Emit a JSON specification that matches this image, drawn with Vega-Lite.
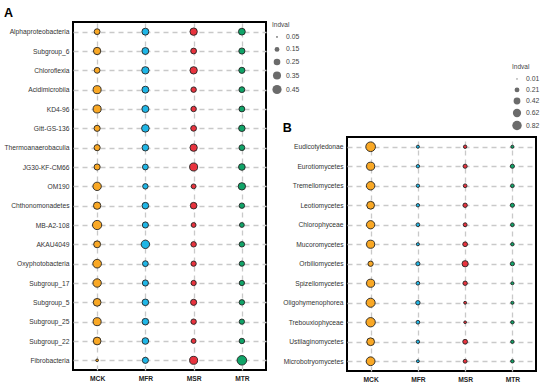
{
  "$schema": "https://vega.github.io/schema/vega-lite/v6.json",
  "padding": {"left": 2, "top": 5, "right": 5, "bottom": 5},
  "bounds": "flush",
  "spacing": 81,
  "config": {
    "font": "Liberation Sans",
    "view": {"stroke": "black", "strokeWidth": 2},
    "axis": {
      "domain": false,
      "ticks": false,
      "grid": true,
      "gridColor": "#c9c9c9",
      "gridDash": [5, 4],
      "gridWidth": 1.3,
      "labelFontSize": 6.7,
      "labelColor": "#333",
      "title": null
    },
    "axisX": {"labelFontWeight": "bold", "labelPadding": 5, "labelColor": "#222", "labelAngle": 0},
    "axisY": {"labelPadding": 4},
    "title": {"anchor": "start", "fontSize": 12.5, "fontWeight": "bold", "offset": 3},
    "legend": {
      "titleFontSize": 6.5,
      "titleFontWeight": "normal",
      "titleColor": "#444",
      "labelFontSize": 6.8,
      "labelColor": "#444",
      "labelFontWeight": "normal",
      "symbolFillColor": "#6b6b6b",
      "symbolStrokeWidth": 0,
      "symbolType": "circle"
    }
  },
  "datasets": {
    "a": [
      {"taxon": "Alphaproteobacteria", "group": "MCK", "indval": 0.20},
      {"taxon": "Alphaproteobacteria", "group": "MFR", "indval": 0.27},
      {"taxon": "Alphaproteobacteria", "group": "MSR", "indval": 0.30},
      {"taxon": "Alphaproteobacteria", "group": "MTR", "indval": 0.26},
      {"taxon": "Subgroup_6", "group": "MCK", "indval": 0.30},
      {"taxon": "Subgroup_6", "group": "MFR", "indval": 0.27},
      {"taxon": "Subgroup_6", "group": "MSR", "indval": 0.20},
      {"taxon": "Subgroup_6", "group": "MTR", "indval": 0.22},
      {"taxon": "Chloroflexia", "group": "MCK", "indval": 0.20},
      {"taxon": "Chloroflexia", "group": "MFR", "indval": 0.30},
      {"taxon": "Chloroflexia", "group": "MSR", "indval": 0.30},
      {"taxon": "Chloroflexia", "group": "MTR", "indval": 0.22},
      {"taxon": "Acidimicrobiia", "group": "MCK", "indval": 0.35},
      {"taxon": "Acidimicrobiia", "group": "MFR", "indval": 0.27},
      {"taxon": "Acidimicrobiia", "group": "MSR", "indval": 0.18},
      {"taxon": "Acidimicrobiia", "group": "MTR", "indval": 0.20},
      {"taxon": "KD4-96", "group": "MCK", "indval": 0.35},
      {"taxon": "KD4-96", "group": "MFR", "indval": 0.28},
      {"taxon": "KD4-96", "group": "MSR", "indval": 0.18},
      {"taxon": "KD4-96", "group": "MTR", "indval": 0.20},
      {"taxon": "Gitt-GS-136", "group": "MCK", "indval": 0.22},
      {"taxon": "Gitt-GS-136", "group": "MFR", "indval": 0.32},
      {"taxon": "Gitt-GS-136", "group": "MSR", "indval": 0.20},
      {"taxon": "Gitt-GS-136", "group": "MTR", "indval": 0.24},
      {"taxon": "Thermoanaerobaculia", "group": "MCK", "indval": 0.22},
      {"taxon": "Thermoanaerobaculia", "group": "MFR", "indval": 0.25},
      {"taxon": "Thermoanaerobaculia", "group": "MSR", "indval": 0.30},
      {"taxon": "Thermoanaerobaculia", "group": "MTR", "indval": 0.20},
      {"taxon": "JG30-KF-CM66", "group": "MCK", "indval": 0.22},
      {"taxon": "JG30-KF-CM66", "group": "MFR", "indval": 0.20},
      {"taxon": "JG30-KF-CM66", "group": "MSR", "indval": 0.35},
      {"taxon": "JG30-KF-CM66", "group": "MTR", "indval": 0.25},
      {"taxon": "OM190", "group": "MCK", "indval": 0.38},
      {"taxon": "OM190", "group": "MFR", "indval": 0.18},
      {"taxon": "OM190", "group": "MSR", "indval": 0.15},
      {"taxon": "OM190", "group": "MTR", "indval": 0.30},
      {"taxon": "Chthonomonadetes", "group": "MCK", "indval": 0.30},
      {"taxon": "Chthonomonadetes", "group": "MFR", "indval": 0.25},
      {"taxon": "Chthonomonadetes", "group": "MSR", "indval": 0.25},
      {"taxon": "Chthonomonadetes", "group": "MTR", "indval": 0.18},
      {"taxon": "MB-A2-108", "group": "MCK", "indval": 0.45},
      {"taxon": "MB-A2-108", "group": "MFR", "indval": 0.22},
      {"taxon": "MB-A2-108", "group": "MSR", "indval": 0.15},
      {"taxon": "MB-A2-108", "group": "MTR", "indval": 0.15},
      {"taxon": "AKAU4049", "group": "MCK", "indval": 0.27},
      {"taxon": "AKAU4049", "group": "MFR", "indval": 0.38},
      {"taxon": "AKAU4049", "group": "MSR", "indval": 0.18},
      {"taxon": "AKAU4049", "group": "MTR", "indval": 0.18},
      {"taxon": "Oxyphotobacteria", "group": "MCK", "indval": 0.40},
      {"taxon": "Oxyphotobacteria", "group": "MFR", "indval": 0.20},
      {"taxon": "Oxyphotobacteria", "group": "MSR", "indval": 0.17},
      {"taxon": "Oxyphotobacteria", "group": "MTR", "indval": 0.17},
      {"taxon": "Subgroup_17", "group": "MCK", "indval": 0.38},
      {"taxon": "Subgroup_17", "group": "MFR", "indval": 0.22},
      {"taxon": "Subgroup_17", "group": "MSR", "indval": 0.17},
      {"taxon": "Subgroup_17", "group": "MTR", "indval": 0.17},
      {"taxon": "Subgroup_5", "group": "MCK", "indval": 0.33},
      {"taxon": "Subgroup_5", "group": "MFR", "indval": 0.25},
      {"taxon": "Subgroup_5", "group": "MSR", "indval": 0.22},
      {"taxon": "Subgroup_5", "group": "MTR", "indval": 0.18},
      {"taxon": "Subgroup_25", "group": "MCK", "indval": 0.35},
      {"taxon": "Subgroup_25", "group": "MFR", "indval": 0.25},
      {"taxon": "Subgroup_25", "group": "MSR", "indval": 0.18},
      {"taxon": "Subgroup_25", "group": "MTR", "indval": 0.17},
      {"taxon": "Subgroup_22", "group": "MCK", "indval": 0.33},
      {"taxon": "Subgroup_22", "group": "MFR", "indval": 0.25},
      {"taxon": "Subgroup_22", "group": "MSR", "indval": 0.15},
      {"taxon": "Subgroup_22", "group": "MTR", "indval": 0.18},
      {"taxon": "Fibrobacteria", "group": "MCK", "indval": 0.07},
      {"taxon": "Fibrobacteria", "group": "MFR", "indval": 0.22},
      {"taxon": "Fibrobacteria", "group": "MSR", "indval": 0.35},
      {"taxon": "Fibrobacteria", "group": "MTR", "indval": 0.48}
    ],
    "b": [
      {"taxon": "Eudicotyledonae", "group": "MCK", "indval": 0.85},
      {"taxon": "Eudicotyledonae", "group": "MFR", "indval": 0.08},
      {"taxon": "Eudicotyledonae", "group": "MSR", "indval": 0.10},
      {"taxon": "Eudicotyledonae", "group": "MTR", "indval": 0.08},
      {"taxon": "Eurotiomycetes", "group": "MCK", "indval": 0.60},
      {"taxon": "Eurotiomycetes", "group": "MFR", "indval": 0.10},
      {"taxon": "Eurotiomycetes", "group": "MSR", "indval": 0.15},
      {"taxon": "Eurotiomycetes", "group": "MTR", "indval": 0.15},
      {"taxon": "Tremellomycetes", "group": "MCK", "indval": 0.65},
      {"taxon": "Tremellomycetes", "group": "MFR", "indval": 0.10},
      {"taxon": "Tremellomycetes", "group": "MSR", "indval": 0.12},
      {"taxon": "Tremellomycetes", "group": "MTR", "indval": 0.12},
      {"taxon": "Leotiomycetes", "group": "MCK", "indval": 0.55},
      {"taxon": "Leotiomycetes", "group": "MFR", "indval": 0.10},
      {"taxon": "Leotiomycetes", "group": "MSR", "indval": 0.17},
      {"taxon": "Leotiomycetes", "group": "MTR", "indval": 0.15},
      {"taxon": "Chlorophyceae", "group": "MCK", "indval": 0.62},
      {"taxon": "Chlorophyceae", "group": "MFR", "indval": 0.12},
      {"taxon": "Chlorophyceae", "group": "MSR", "indval": 0.13},
      {"taxon": "Chlorophyceae", "group": "MTR", "indval": 0.12},
      {"taxon": "Mucoromycetes", "group": "MCK", "indval": 0.60},
      {"taxon": "Mucoromycetes", "group": "MFR", "indval": 0.08},
      {"taxon": "Mucoromycetes", "group": "MSR", "indval": 0.20},
      {"taxon": "Mucoromycetes", "group": "MTR", "indval": 0.10},
      {"taxon": "Orbiliomycetes", "group": "MCK", "indval": 0.25},
      {"taxon": "Orbiliomycetes", "group": "MFR", "indval": 0.15},
      {"taxon": "Orbiliomycetes", "group": "MSR", "indval": 0.35},
      {"taxon": "Orbiliomycetes", "group": "MTR", "indval": 0.15},
      {"taxon": "Spizellomycetes", "group": "MCK", "indval": 0.60},
      {"taxon": "Spizellomycetes", "group": "MFR", "indval": 0.12},
      {"taxon": "Spizellomycetes", "group": "MSR", "indval": 0.17},
      {"taxon": "Spizellomycetes", "group": "MTR", "indval": 0.08},
      {"taxon": "Oligohymenophorea", "group": "MCK", "indval": 0.75},
      {"taxon": "Oligohymenophorea", "group": "MFR", "indval": 0.17},
      {"taxon": "Oligohymenophorea", "group": "MSR", "indval": 0.07},
      {"taxon": "Oligohymenophorea", "group": "MTR", "indval": 0.08},
      {"taxon": "Trebouxiophyceae", "group": "MCK", "indval": 0.80},
      {"taxon": "Trebouxiophyceae", "group": "MFR", "indval": 0.12},
      {"taxon": "Trebouxiophyceae", "group": "MSR", "indval": 0.06},
      {"taxon": "Trebouxiophyceae", "group": "MTR", "indval": 0.10},
      {"taxon": "Ustilaginomycetes", "group": "MCK", "indval": 0.55},
      {"taxon": "Ustilaginomycetes", "group": "MFR", "indval": 0.10},
      {"taxon": "Ustilaginomycetes", "group": "MSR", "indval": 0.20},
      {"taxon": "Ustilaginomycetes", "group": "MTR", "indval": 0.10},
      {"taxon": "Microbotryomycetes", "group": "MCK", "indval": 0.70},
      {"taxon": "Microbotryomycetes", "group": "MFR", "indval": 0.07},
      {"taxon": "Microbotryomycetes", "group": "MSR", "indval": 0.13},
      {"taxon": "Microbotryomycetes", "group": "MTR", "indval": 0.10}
    ],
    "empty": []
  },
  "hconcat": [
    {
      "title": "A",
      "data": {"name": "a"},
      "width": 193,
      "height": 348,
      "mark": {"type": "point", "filled": true, "opacity": 1, "stroke": "#222", "strokeWidth": 0.9},
      "encoding": {
        "x": {"field": "group", "type": "nominal", "sort": ["MCK", "MFR", "MSR", "MTR"]},
        "y": {"field": "taxon", "type": "nominal", "sort": null},
        "color": {"field": "group", "type": "nominal", "scale": {"domain": ["MCK", "MFR", "MSR", "MTR"], "range": ["#F9A825", "#1FB6E6", "#E8333E", "#10A468"]}, "legend": null},
        "size": {"field": "indval", "type": "quantitative", "scale": {"domain": [0.05, 0.45], "range": [3, 85], "zero": false},
          "legend": {"title": "Indval", "format": ".2f", "values": [0.05, 0.15, 0.25, 0.35, 0.45], "orient": "none", "legendX": 199, "legendY": 0, "rowPadding": 4.5}}
      }
    },
    {
      "vconcat": [
        {
          "data": {"name": "empty"},
          "width": 189,
          "height": 115,
          "view": {"stroke": null},
          "mark": "point"
        },
        {
          "title": "B",
          "data": {"name": "b"},
          "width": 189,
          "height": 234,
          "mark": {"type": "point", "filled": true, "opacity": 1, "stroke": "#222", "strokeWidth": 0.9},
          "encoding": {
            "x": {"field": "group", "type": "nominal", "sort": ["MCK", "MFR", "MSR", "MTR"]},
            "y": {"field": "taxon", "type": "nominal", "sort": null},
            "color": {"field": "group", "type": "nominal", "scale": {"domain": ["MCK", "MFR", "MSR", "MTR"], "range": ["#F9A825", "#1FB6E6", "#E8333E", "#10A468"]}, "legend": null},
            "size": {"field": "indval", "type": "quantitative", "scale": {"domain": [0.01, 0.82], "range": [2, 90], "zero": false},
              "legend": {"title": "Indval", "format": ".2f", "values": [0.01, 0.21, 0.42, 0.62, 0.82], "orient": "none", "legendX": 165, "legendY": 42, "rowPadding": 3}}
          }
        }
      ],
      "spacing": 0,
      "bounds": "flush"
    }
  ],
  "resolve": {"scale": {"size": "independent", "y": "independent"}, "legend": {"size": "independent"}}
}
